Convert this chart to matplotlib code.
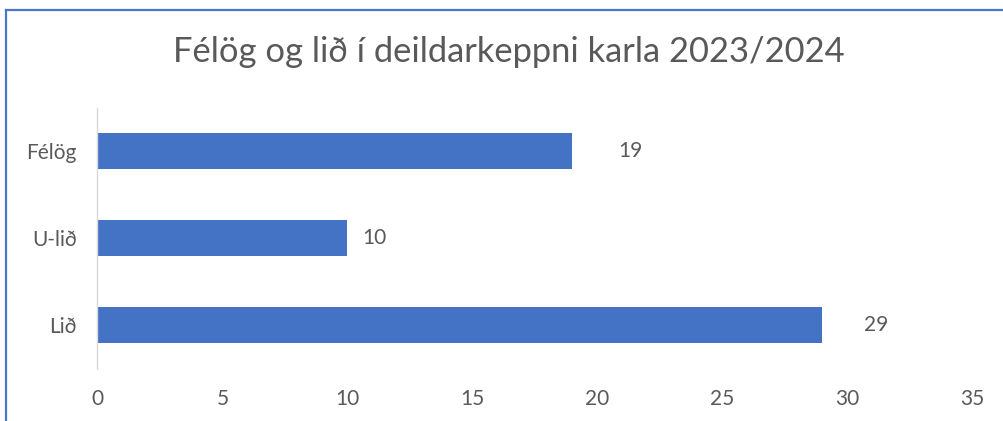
import matplotlib
matplotlib.use("Agg")
import matplotlib.pyplot as plt
from matplotlib.lines import Line2D

categories = ["Félög", "U-lið", "Lið"]
values = [19, 10, 29]
x_ticks = [0, 5, 10, 15, 20, 25, 30, 35]
title = "Félög og lið í deildarkeppni karla 2023/2024"

# per-label horizontal offsets (pixels) as placed in the original
label_offsets_px = [46, 15, 42]

W, H = 1004, 421
fig = plt.figure(figsize=(W / 100, H / 100), dpi=100)
plt.rcParams['font.family'] = ['Lato', 'DejaVu Sans']

text_color = "#595959"
bar_color = "#4472C4"
fs = 15

ax = fig.add_axes([97.5 / W, (H - 368.5) / H, (972.5 - 97.5) / W, (368.5 - 107.5) / H])
y = list(range(len(categories)))
ax.barh(y, values, height=0.41, color=bar_color)
ax.set_ylim(len(categories) - 0.5, -0.5)
ax.set_xlim(x_ticks[0], x_ticks[-1])
ax.set_yticks(y)
ax.set_yticklabels(categories)
ax.set_xticks(x_ticks)
ax.set_xticklabels([str(t) for t in x_ticks])
for s in ["top", "right", "bottom"]:
    ax.spines[s].set_visible(False)
ax.spines["left"].set_color("#d9d9d9")
ax.spines["left"].set_linewidth(1.0)
ax.tick_params(axis="both", length=0, labelsize=fs, colors=text_color)
ax.tick_params(axis="y", pad=15)
ax.tick_params(axis="x", pad=15)

for yi, v, off in zip(y, values, label_offsets_px):
    ax.annotate(str(v), xy=(v, yi), xytext=(off, 0), textcoords="offset pixels",
                ha="left", va="center", fontsize=fs, color=text_color)

fig.text(509 / W, 1 - 52 / H, title, ha="center", va="center", fontsize=24.8, color=text_color)

# chart border (cropped at right and bottom): left and top edges only
bx, by = 6 / W, 1 - 10 / H
fig.add_artist(Line2D([bx, bx], [0, by], transform=fig.transFigure, color="#4a78c8", linewidth=1.6))
fig.add_artist(Line2D([bx, 1], [by, by], transform=fig.transFigure, color="#4a78c8", linewidth=1.6))

fig.savefig("out.png", dpi=100)
